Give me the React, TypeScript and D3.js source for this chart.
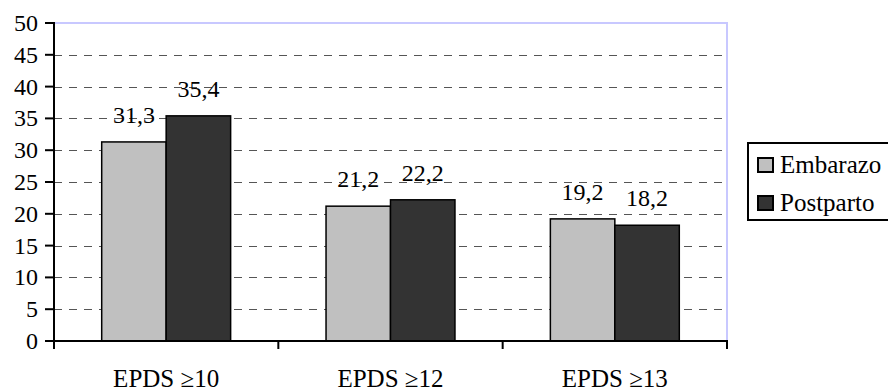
import React from "react";
import * as d3 from "d3";

const categories = ["EPDS ≥10", "EPDS ≥12", "EPDS ≥13"];
const seriesNames = ["Embarazo", "Postparto"];
const embarazo = [31.3, 21.2, 19.2];
const postparto = [35.4, 22.2, 18.2];
const yTicks = [0, 5, 10, 15, 20, 25, 30, 35, 40, 45, 50];
const seriesColors = ["#C0C0C0", "#333333"];

const W = 888;
const H = 391;
const left = 54;
const right = 727;
const top = 23;
const bottom = 341;
const fontStyle = { fontFamily: "Liberation Serif" };

export default function App() {
  const x = d3.scaleBand<string>().domain(categories).range([left, right]).paddingInner(0).paddingOuter(0);
  const xs = d3.scaleBand<string>().domain(seriesNames).range([0, x.bandwidth()]).paddingInner(0).paddingOuter(0.74);
  const y = d3.scaleLinear().domain([0, 50]).range([bottom, top]);
  const series = [embarazo, postparto];
  const fmt = (v: number) => d3.format(".1f")(v).replace(".", ",");
  const boundaries = [...categories.map((c) => x(c) as number), right];

  return (
    <svg width={W} height={H} style={{ position: "absolute", left: 0, top: 0, background: "#fff" }}>
      <rect x={0} y={0} width={W} height={H} fill="#fff" />
      {/* grid lines */}
      {yTicks.filter((t) => t > 0 && t < 50).map((t) => (
        <line key={"g" + t} x1={left} x2={right} y1={Math.round(y(t)) + 0.5} y2={Math.round(y(t)) + 0.5}
          stroke="#555" strokeWidth={1} strokeDasharray="8 7" />
      ))}
      {/* plot border top/right */}
      <line x1={left} x2={right + 1} y1={top} y2={top} stroke="#C8C8FF" strokeWidth={2} />
      <line x1={right} x2={right} y1={top} y2={bottom} stroke="#C8C8FF" strokeWidth={2} />
      {/* bars */}
      {categories.map((c, i) => (
        <g key={c}>
          {seriesNames.map((s, j) => {
            const bx = (x(c) as number) + (xs(s) as number);
            const v = series[j][i];
            return (
              <rect key={s} x={bx} y={y(v)} width={xs.bandwidth()} height={y(0) - y(v)}
                fill={seriesColors[j]} stroke="#000" strokeWidth={1.5} />
            );
          })}
        </g>
      ))}
      {/* value labels */}
      {categories.map((c, i) => (
        <g key={"l" + c}>
          {seriesNames.map((s, j) => {
            const bx = (x(c) as number) + (xs(s) as number) + xs.bandwidth() / 2;
            const v = series[j][i];
            return (
              <text key={s} x={bx} y={y(v) - 19} textAnchor="middle" fontSize={24} fill="#000" style={fontStyle}>
                {fmt(v)}
              </text>
            );
          })}
        </g>
      ))}
      {/* y axis */}
      <line x1={left} x2={left} y1={top - 1} y2={bottom + 8} stroke="#000" strokeWidth={2} />
      {yTicks.map((t) => (
        <g key={"t" + t}>
          <line x1={left - 9} x2={left} y1={y(t)} y2={y(t)} stroke="#000" strokeWidth={2} />
          <text x={38} y={y(t) + 8} textAnchor="end" fontSize={24} fill="#000" style={fontStyle}>{t}</text>
        </g>
      ))}
      {/* x axis */}
      <line x1={left - 9} x2={right + 1} y1={bottom} y2={bottom} stroke="#000" strokeWidth={2} />
      {boundaries.map((b, i) => (
        <line key={"xb" + i} x1={b} x2={b} y1={bottom} y2={bottom + 8} stroke="#000" strokeWidth={2} />
      ))}
      {categories.map((c) => (
        <text key={"c" + c} x={(x(c) as number) + x.bandwidth() / 2} y={387} textAnchor="middle" fontSize={25} fill="#000" style={fontStyle}>
          {c}
        </text>
      ))}
      {/* legend */}
      <rect x={748} y={143} width={150} height={77} fill="#fff" stroke="#000" strokeWidth={2} />
      {seriesNames.map((s, j) => (
        <g key={"lg" + s}>
          <rect x={758} y={158 + j * 38} width={15} height={14} fill={seriesColors[j]} stroke="#000" strokeWidth={2} />
          <text x={780} y={172.5 + j * 38.5} fontSize={25} fill="#000" style={fontStyle}>{s}</text>
        </g>
      ))}
    </svg>
  );
}
